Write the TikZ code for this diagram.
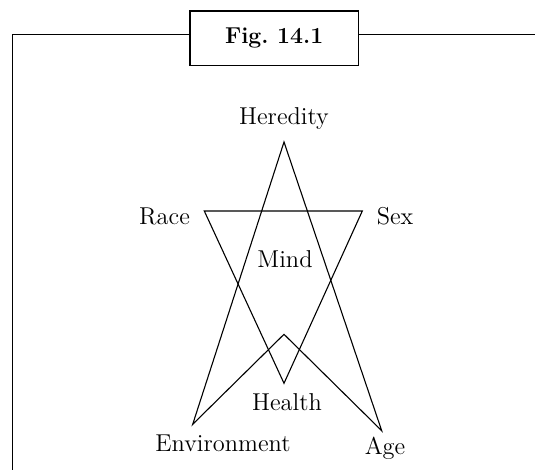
\documentclass[tikz,border=0pt]{standalone}
\usepackage{tikz}
\begin{document}
\begin{tikzpicture}[x=0.5pt,y=-0.5pt,
  lbl/.style={inner sep=0pt,font=\fontsize{12.2}{14}\selectfont},
  ln/.style={line width=0.55pt,line join=miter},
  figbox/.style={draw,line width=0.55pt,minimum width=84.15pt,minimum height=27.35pt,inner sep=0pt,font=\fontsize{11.5}{14}\selectfont\bfseries}]
\useasboundingbox (0,0) rectangle (535,470);
% frame
\node[figbox] (fig) at (274.15,38.35) {Fig.\ 14.1};
\coordinate (fl) at (12.7,34.3);
\coordinate (fb) at (12.7,470);
\coordinate (fr) at (535,34.3);
\draw[ln] (fb) -- (fl) -- (fl -| fig.west);
\draw[ln] (fl -| fig.east) -- (fr);
% vertices
\coordinate (her) at (284,142);
\coordinate (env) at (192.7,424.3);
\coordinate (age) at (381.7,430.7);
\coordinate (pk) at (284,334.3);
\coordinate (rc) at (204.3,211);
\coordinate (sx) at (362.3,211);
\coordinate (hl) at (284,383.3);
% shapes
\draw[ln] (env) -- (her) -- (age) -- (pk) -- cycle;
\draw[ln] (rc) -- (sx) -- (hl) -- cycle;
% labels
\node[lbl] (lher) at (284,119) {Heredity};
\node[lbl] (lrace) at (164.5,216) {Race};
\node[lbl] (lsex) at (395,216) {Sex};
\node[lbl] (lmind) at (285,259) {Mind};
\node[lbl] (lhealth) at (287,402) {Health};
\node[lbl] (lenv) at (223,443) {Environment};
\node[lbl] (lage) at (385,448) {Age};
\end{tikzpicture}
\end{document}
